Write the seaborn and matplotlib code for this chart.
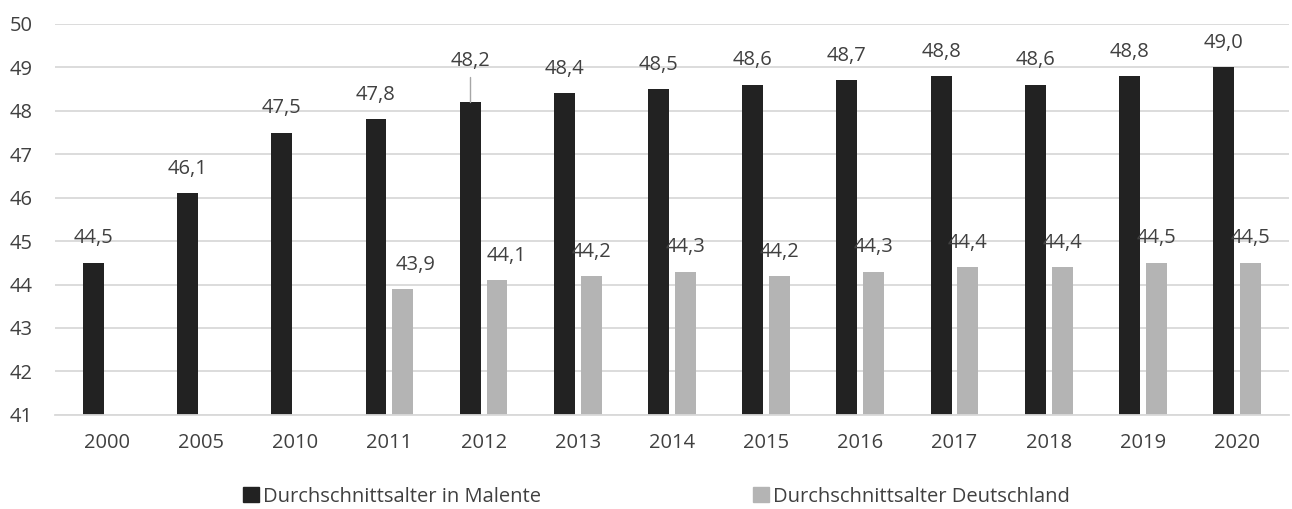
import pandas as pd
import numpy as np
import matplotlib.pyplot as plt
import seaborn as sns
from matplotlib.patches import Patch

# Data
years = ["2000", "2005", "2010", "2011", "2012", "2013", "2014",
         "2015", "2016", "2017", "2018", "2019", "2020"]
malente = [44.5, 46.1, 47.5, 47.8, 48.2, 48.4, 48.5, 48.6, 48.7, 48.8, 48.6, 48.8, 49.0]
deutschland = [np.nan, np.nan, np.nan, 43.9, 44.1, 44.2, 44.3, 44.2, 44.3, 44.4, 44.4, 44.5, 44.5]
series = ["Durchschnittsalter in Malente", "Durchschnittsalter Deutschland"]

df = pd.DataFrame({
    "Jahr": years * 2,
    "Alter": malente + deutschland,
    "Reihe": [series[0]] * len(years) + [series[1]] * len(years),
})

sns.set_style("white")
plt.rcParams["font.family"] = ["Open Sans", "DejaVu Sans"]
text_col = "#404040"
colors = {series[0]: "#222222", series[1]: "#b4b4b4"}

fig = plt.figure(figsize=(12.92, 5.09), dpi=100)
ax = fig.add_axes([0.0426, 0.185, 0.955, 0.768])

sns.barplot(data=df, x="Jahr", y="Alter", hue="Reihe", palette=colors,
            width=0.57, gap=0.22, ax=ax, legend=False, errorbar=None,
            order=years, hue_order=series, linewidth=0)

ax.set_ylim(41, 50)
ax.set_yticks(range(41, 51))
ax.set_xlim(-0.55, len(years) - 0.45)
ax.yaxis.grid(True, color="#d9d9d9", linewidth=1.3)
ax.set_axisbelow(True)
for s in ["top", "right", "left"]:
    ax.spines[s].set_visible(False)
ax.spines["bottom"].set_color("#d9d9d9")
ax.spines["bottom"].set_linewidth(1.3)
ax.tick_params(axis="both", length=0, labelsize=14.5, colors=text_col)
ax.tick_params(axis="x", pad=13)
ax.tick_params(axis="y", pad=16)
ax.set_xlabel("")
ax.set_ylabel("")

# data labels
label_shift_x = {("Durchschnittsalter Deutschland", "2011"): 0.13,
                 ("Durchschnittsalter Deutschland", "2012"): 0.105}
label_raise = {("Durchschnittsalter in Malente", "2012"): 0.95}
for name, values in zip(series, [malente, deutschland]):
    for i, (yr, v) in enumerate(zip(years, values)):
        if np.isnan(v):
            continue
        sign = -1 if name == series[0] else 1
        x = i + sign * 0.1425
        dx = label_shift_x.get((name, yr), 0)
        dy = label_raise.get((name, yr), 0.56)
        if dy > 0.6:
            ax.plot([x, x], [v, v + dy - 0.37], color="#a6a6a6", lw=1)
        ax.text(x + dx, v + dy, f"{v:.1f}".replace(".", ","), ha="center",
                va="center", fontsize=14.5, color=text_col)

handles = [Patch(color=colors[s]) for s in series]
fig.legend(handles, series, loc="center", bbox_to_anchor=(0.508, 0.024), ncol=2,
           frameon=False, fontsize=14.5, labelcolor=text_col, handlelength=0.8,
           handleheight=0.8, handletextpad=0.2, columnspacing=10.5,
           borderpad=0)

fig.savefig("out.png", dpi=100)
